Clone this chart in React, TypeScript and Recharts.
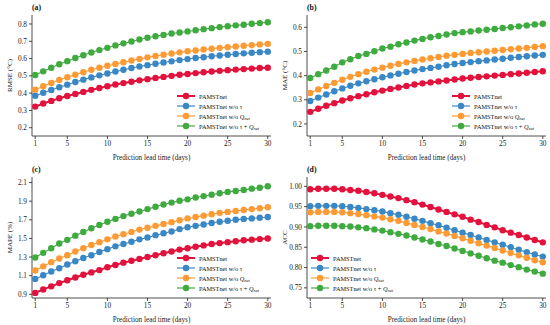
import React from 'react';
import { LineChart, Line, XAxis, YAxis, Legend } from 'recharts';

const days = [1, 2, 3, 4, 5, 6, 7, 8, 9, 10, 11, 12, 13, 14, 15, 16, 17, 18, 19, 20, 21, 22, 23, 24, 25, 26, 27, 28, 29, 30];
const dayTicks = [1, 5, 10, 15, 20, 25, 30];

const colors = ['#e2123d', '#3a87c6', '#fd9a33', '#3faa3f'];

// (a) RMSE
const rmseFull = [0.322, 0.34, 0.355, 0.37, 0.383, 0.395, 0.407, 0.419, 0.43, 0.44, 0.45, 0.458, 0.466, 0.474, 0.481, 0.488, 0.494, 0.5, 0.506, 0.511, 0.516, 0.521, 0.525, 0.529, 0.533, 0.536, 0.539, 0.542, 0.545, 0.547];
const rmseNoTau = [0.385, 0.402, 0.418, 0.434, 0.449, 0.464, 0.478, 0.491, 0.503, 0.514, 0.525, 0.535, 0.545, 0.554, 0.562, 0.57, 0.577, 0.584, 0.591, 0.597, 0.603, 0.608, 0.613, 0.618, 0.622, 0.626, 0.63, 0.634, 0.637, 0.64];
const rmseNoQ = [0.42, 0.44, 0.459, 0.476, 0.492, 0.507, 0.521, 0.535, 0.547, 0.558, 0.569, 0.579, 0.589, 0.598, 0.607, 0.615, 0.622, 0.629, 0.636, 0.642, 0.647, 0.652, 0.657, 0.662, 0.666, 0.67, 0.674, 0.678, 0.682, 0.685];
const rmseNoBoth = [0.505, 0.526, 0.547, 0.567, 0.585, 0.603, 0.619, 0.635, 0.649, 0.662, 0.676, 0.688, 0.699, 0.71, 0.72, 0.729, 0.737, 0.745, 0.751, 0.757, 0.764, 0.77, 0.776, 0.782, 0.787, 0.792, 0.796, 0.801, 0.805, 0.81];

// (b) MAE
const maeFull = [0.25, 0.263, 0.275, 0.286, 0.297, 0.306, 0.315, 0.323, 0.331, 0.338, 0.345, 0.351, 0.357, 0.363, 0.368, 0.372, 0.376, 0.38, 0.384, 0.388, 0.391, 0.394, 0.397, 0.4, 0.403, 0.406, 0.409, 0.412, 0.415, 0.418];
const maeNoTau = [0.295, 0.309, 0.322, 0.335, 0.347, 0.358, 0.368, 0.377, 0.385, 0.393, 0.401, 0.408, 0.415, 0.421, 0.427, 0.432, 0.437, 0.443, 0.448, 0.452, 0.456, 0.46, 0.463, 0.467, 0.47, 0.474, 0.477, 0.48, 0.483, 0.486];
const maeNoQ = [0.328, 0.343, 0.357, 0.37, 0.383, 0.395, 0.406, 0.416, 0.425, 0.433, 0.441, 0.448, 0.455, 0.461, 0.467, 0.472, 0.477, 0.482, 0.486, 0.49, 0.494, 0.497, 0.5, 0.503, 0.506, 0.509, 0.512, 0.515, 0.519, 0.522];
const maeNoBoth = [0.39, 0.406, 0.421, 0.437, 0.455, 0.468, 0.481, 0.49, 0.501, 0.512, 0.52, 0.53, 0.537, 0.545, 0.552, 0.559, 0.564, 0.57, 0.576, 0.58, 0.583, 0.587, 0.59, 0.593, 0.597, 0.6, 0.604, 0.608, 0.612, 0.615];

// (c) MAPE
const mapeFull = [0.915, 0.952, 0.985, 1.02, 1.05, 1.08, 1.11, 1.135, 1.16, 1.19, 1.215, 1.24, 1.26, 1.28, 1.3, 1.32, 1.34, 1.36, 1.38, 1.395, 1.41, 1.425, 1.44, 1.45, 1.46, 1.47, 1.48, 1.487, 1.493, 1.5];
const mapeNoTau = [1.065, 1.105, 1.145, 1.18, 1.22, 1.255, 1.29, 1.32, 1.355, 1.385, 1.415, 1.44, 1.465, 1.49, 1.51, 1.535, 1.555, 1.575, 1.6, 1.62, 1.635, 1.65, 1.665, 1.68, 1.69, 1.7, 1.71, 1.715, 1.722, 1.73];
const mapeNoQ = [1.155, 1.2, 1.245, 1.285, 1.32, 1.36, 1.395, 1.43, 1.46, 1.49, 1.52, 1.545, 1.57, 1.595, 1.615, 1.635, 1.655, 1.675, 1.695, 1.715, 1.73, 1.745, 1.76, 1.775, 1.785, 1.795, 1.805, 1.815, 1.825, 1.835];
const mapeNoBoth = [1.295, 1.345, 1.395, 1.445, 1.485, 1.53, 1.57, 1.61, 1.645, 1.68, 1.71, 1.74, 1.765, 1.79, 1.815, 1.84, 1.865, 1.885, 1.905, 1.92, 1.94, 1.955, 1.97, 1.985, 2.0, 2.01, 2.02, 2.035, 2.045, 2.06];

// (d) ACC
const accFull = [0.993, 0.994, 0.994, 0.994, 0.993, 0.991, 0.989, 0.986, 0.983, 0.979, 0.975, 0.971, 0.966, 0.961, 0.955, 0.949, 0.943, 0.937, 0.931, 0.925, 0.918, 0.912, 0.905, 0.899, 0.892, 0.886, 0.88, 0.874, 0.868, 0.862];
const accNoTau = [0.951, 0.952, 0.952, 0.952, 0.951, 0.949, 0.947, 0.944, 0.941, 0.938, 0.934, 0.93, 0.925, 0.92, 0.915, 0.909, 0.904, 0.898, 0.892, 0.886, 0.88, 0.874, 0.868, 0.862, 0.856, 0.85, 0.844, 0.838, 0.832, 0.827];
const accNoQ = [0.936, 0.937, 0.937, 0.937, 0.936, 0.934, 0.932, 0.929, 0.926, 0.923, 0.919, 0.915, 0.91, 0.905, 0.9, 0.895, 0.889, 0.884, 0.878, 0.872, 0.866, 0.86, 0.854, 0.848, 0.842, 0.836, 0.83, 0.824, 0.818, 0.813];
const accNoBoth = [0.902, 0.903, 0.903, 0.903, 0.902, 0.901, 0.899, 0.897, 0.894, 0.891, 0.887, 0.883, 0.879, 0.874, 0.869, 0.864, 0.858, 0.853, 0.847, 0.841, 0.835, 0.829, 0.823, 0.817, 0.812, 0.806, 0.801, 0.795, 0.79, 0.785];

const rmseTicks = [0.2, 0.3, 0.4, 0.5, 0.6, 0.7, 0.8];
const maeTicks = [0.2, 0.3, 0.4, 0.5, 0.6];
const mapeTicks = [0.9, 1.1, 1.3, 1.5, 1.7, 1.9, 2.1];
const accTicks = [0.75, 0.8, 0.85, 0.9, 0.95, 1.0];

const FONT = '"Liberation Serif", "Times New Roman", serif';
const keys = ['full', 'noTau', 'noQ', 'noBoth'];

const panels = [
  { tag: '(a)', ylabel: 'RMSE (°C)', series: [rmseFull, rmseNoTau, rmseNoQ, rmseNoBoth], ticks: rmseTicks, domain: [0.152, 0.852], digits: 1, legendX: 175, left: 0, top: 0 },
  { tag: '(b)', ylabel: 'MAE (°C)', series: [maeFull, maeNoTau, maeNoQ, maeNoBoth], ticks: maeTicks, domain: [0.15, 0.651], digits: 1, legendX: 175, left: 275, top: 0 },
  { tag: '(c)', ylabel: 'MAPE (%)', series: [mapeFull, mapeNoTau, mapeNoQ, mapeNoBoth], ticks: mapeTicks, domain: [0.86, 2.16], digits: 1, legendX: 175, left: 0, top: 162 },
  { tag: '(d)', ylabel: 'ACC', series: [accFull, accNoTau, accNoQ, accNoBoth], ticks: accTicks, domain: [0.725, 1.023], digits: 2, legendX: 34, left: 275, top: 162 },
];

const LegendText = ({ idx, x, y }: { idx: number; x: number; y: number }) => {
  const q = [
    <tspan key="q" fontStyle="italic">Q</tspan>,
    <tspan key="n" fontStyle="italic" fontSize={4.5} dy={1.6}>net</tspan>,
  ];
  return (
    <text x={x} y={y} fontSize={6.3} fontFamily={FONT} fill="#111" dominantBaseline="central">
      {idx === 0 && 'PAMSTnet'}
      {idx === 1 && 'PAMSTnet w/o τ'}
      {idx === 2 && ['PAMSTnet w/o ', ...q]}
      {idx === 3 && ['PAMSTnet w/o τ + ', ...q]}
    </text>
  );
};

const makeLegend = () => () => (
  <svg width={110} height={42} style={{ display: 'block', overflow: 'visible' }}>
    {colors.map((c, i) => (
      <g key={i}>
        <line x1={2} x2={20} y1={4 + i * 10} y2={4 + i * 10} stroke={c} strokeWidth={i === 0 ? 2 : 1.2} />
        <circle cx={11} cy={4 + i * 10} r={3.2} fill={c} />
        <LegendText idx={i} x={24} y={4 + i * 10} />
      </g>
    ))}
  </svg>
);

const Panel = ({ p }: { p: (typeof panels)[number] }) => {
  const rows = days.map((d, i) => ({
    day: d,
    full: p.series[0][i],
    noTau: p.series[1][i],
    noQ: p.series[2][i],
    noBoth: p.series[3][i],
  }));
  const tickStyle = { fontSize: 7.3, fill: '#222', fontFamily: FONT };
  const axisStroke = { stroke: '#222', strokeWidth: 0.8 };
  return (
    <div style={{ position: 'absolute', left: p.left, top: p.top, width: 275, height: 162 }}>
      <div style={{ position: 'absolute', left: 32, top: 3, fontFamily: FONT, fontWeight: 'bold', fontSize: 7.8, color: '#111' }}>
        {p.tag}
      </div>
      <LineChart width={275} height={162} data={rows} margin={{ top: 15, right: 4, bottom: 0, left: 0 }}>
        <XAxis
          dataKey="day"
          type="number"
          domain={[0.6, 30.4]}
          ticks={dayTicks}
          allowDataOverflow
          height={26}
          tickSize={3}
          tickMargin={1.5}
          tick={tickStyle}
          tickLine={axisStroke}
          axisLine={axisStroke}
          label={{ value: 'Prediction lead time (days)', position: 'insideBottom', offset: 2, fontSize: 7.2, fill: '#222', fontFamily: FONT }}
        />
        <XAxis xAxisId="top" dataKey="day" type="number" orientation="top" domain={[0.6, 30.4]} height={0} tick={false} tickLine={false} axisLine={axisStroke} />
        <YAxis
          type="number"
          domain={p.domain}
          ticks={p.ticks}
          allowDataOverflow
          width={32}
          tickSize={3}
          tickMargin={2}
          tick={tickStyle}
          tickLine={axisStroke}
          axisLine={axisStroke}
          tickFormatter={(v: number) => v.toFixed(p.digits)}
          label={{
            content: () => (
              <text x={9.5} y={75.5} transform="rotate(-90 9.5 75.5)" textAnchor="middle" dominantBaseline="central" fontSize={7} fill="#222" fontFamily={FONT}>
                {p.ylabel}
              </text>
            ),
          }}
        />
        <YAxis yAxisId="right" orientation="right" type="number" domain={p.domain} width={0} tick={false} tickLine={false} axisLine={axisStroke} />
        {keys.map((k, i) => (
          <Line
            key={k}
            dataKey={k}
            type="linear"
            stroke={colors[i]}
            strokeWidth={i === 0 ? 2 : 1.1}
            dot={{ r: 3.2, fill: colors[i], stroke: 'none' }}
            isAnimationActive={false}
          />
        ))}
        <Legend
          layout="horizontal"
          verticalAlign="middle"
          align="center"
          content={makeLegend()}
          wrapperStyle={{ left: p.legendX, top: 92, width: 110, height: 42 }}
        />
      </LineChart>
    </div>
  );
};

export default function App() {
  return (
    <div style={{ position: 'absolute', left: 0, top: 0, width: 550, height: 325, background: '#fff' }}>
      {panels.map((p) => (
        <Panel key={p.tag} p={p} />
      ))}
    </div>
  );
}
